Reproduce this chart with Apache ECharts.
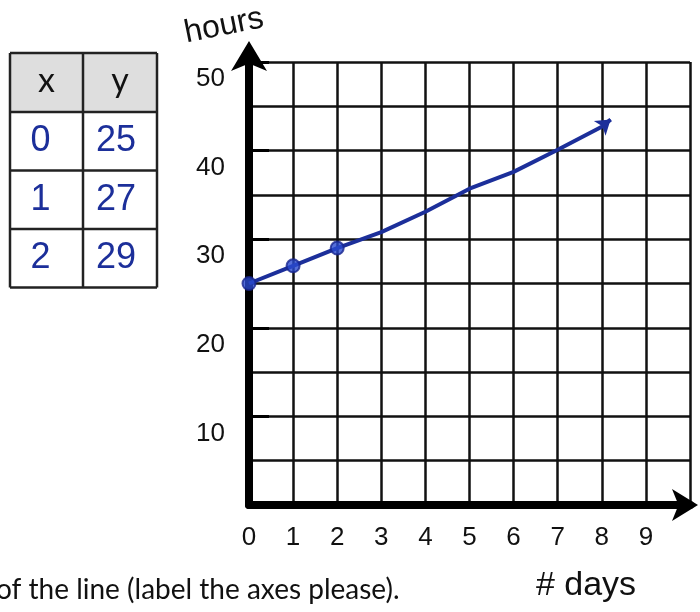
<!DOCTYPE html>
<html>
<head>
<meta charset="utf-8">
<title>hours vs # days</title>
<script src="https://cdn.jsdelivr.net/npm/echarts@6/dist/echarts.min.js"></script>
<style>
  html, body { margin: 0; padding: 0; background: #ffffff; }
  #chart { width: 700px; height: 612px; }
</style>
</head>
<body>
<div id="chart"></div>
<script>
// Table of values (x = days, y = hours)
const tableX = [0, 1, 2];
const tableY = [25, 27, 29];

// Hand-drawn line through the table points, continued to the right
const lineX = [0, 1, 2, 3, 4, 5, 6, 7, 8, 8.2];
const lineY = [25, 27, 29, 30.8, 33.1, 35.7, 37.6, 40.1, 42.7, 43.5];

// Axis tick labels
const xTickLabels = ['0', '1', '2', '3', '4', '5', '6', '7', '8', '9'];
const yTickLabels = ['10', '20', '30', '40', '50'];

const ink = '#111111';
const pen = '#1c2f9a';
const hand = '"Liberation Sans", "DejaVu Sans", sans-serif';
const print = 'Lato, "Open Sans", sans-serif';

const chart = echarts.init(document.getElementById('chart'), null, { renderer: 'canvas' });

// Table built from the arrays above
const tbl = { left: 10, mid: 83, right: 157, top: 53, head: 112, rowH: 58.5 };
const extras = [];
extras.push({
  type: 'rect', shape: { x: tbl.left, y: tbl.top, width: tbl.right - tbl.left, height: tbl.head - tbl.top },
  style: { fill: '#dedede' }, z: 1
});
const hLines = [tbl.top, tbl.head];
tableX.forEach((_, i) => hLines.push(tbl.head + tbl.rowH * (i + 1)));
const tableBottom = hLines[hLines.length - 1];
hLines.forEach(y => extras.push({
  type: 'line', shape: { x1: tbl.left, y1: y, x2: tbl.right, y2: y },
  style: { stroke: '#222', lineWidth: 2.5 }, z: 2
}));
[tbl.left, tbl.mid, tbl.right].forEach(x => extras.push({
  type: 'line', shape: { x1: x, y1: tbl.top, x2: x, y2: tableBottom },
  style: { stroke: '#222', lineWidth: 2.5 }, z: 2
}));
extras.push({
  type: 'text', x: (tbl.left + tbl.mid) / 2, y: (tbl.top + tbl.head) / 2 - 1, z: 3,
  style: { text: 'x', font: '34px ' + print, fill: '#111', align: 'center', verticalAlign: 'middle' }
});
extras.push({
  type: 'text', x: (tbl.mid + tbl.right) / 2, y: (tbl.top + tbl.head) / 2 - 1, z: 3,
  style: { text: 'y', font: '34px ' + print, fill: '#111', align: 'center', verticalAlign: 'middle' }
});
tableX.forEach((xv, i) => {
  const cy = tbl.head + tbl.rowH * (i + 0.5);
  extras.push({
    type: 'text', x: (tbl.left + tbl.mid) / 2 - 6, y: cy, z: 3,
    style: { text: String(xv), font: '36px ' + hand, fill: pen, align: 'center', verticalAlign: 'middle' }
  });
  extras.push({
    type: 'text', x: (tbl.mid + tbl.right) / 2 - 4, y: cy, z: 3,
    style: { text: String(tableY[i]), font: '36px ' + hand, fill: pen, align: 'center', verticalAlign: 'middle' }
  });
});

// Axis titles
extras.push({
  type: 'text', x: 224, y: 26, rotation: 0.2, z: 3,
  style: { text: 'hours', font: '32px ' + hand, fill: ink, align: 'center', verticalAlign: 'middle' }
});
extras.push({
  type: 'text', x: 586, y: 586, z: 3,
  style: { text: '# days', font: '34px ' + hand, fill: ink, align: 'center', verticalAlign: 'middle' }
});

// Printed instruction line at the bottom
extras.push({
  type: 'text', left: -4, top: 576, z: 3,
  style: { text: 'of the line (label the axes please).', font: '28px ' + print, fill: '#111' }
});

const option = {
  backgroundColor: '#ffffff',
  animation: false,
  grid: { left: 249, right: 10, top: 62, bottom: 107, containLabel: false },
  xAxis: {
    type: 'value',
    min: 0, max: 10, interval: 1,
    axisLine: {
      show: true, onZero: false,
      lineStyle: { color: '#000', width: 8 },
      symbol: ['none', 'arrow'], symbolSize: [24, 26], symbolOffset: [0, 8]
    },
    axisTick: { show: false },
    axisLabel: {
      color: ink, fontFamily: hand, fontSize: 26, margin: 20,
      formatter: v => (v < xTickLabels.length ? xTickLabels[v] : '')
    },
    splitLine: { show: true, lineStyle: { color: ink, width: 2.5 } }
  },
  yAxis: {
    type: 'value',
    min: 0, max: 50, interval: 10,
    axisLine: {
      show: true, onZero: false,
      lineStyle: { color: '#000', width: 8 },
      symbol: ['none', 'arrow'], symbolSize: [27, 30], symbolOffset: [0, 21]
    },
    axisTick: { show: true, inside: true, length: 20, lineStyle: { color: '#000', width: 3 } },
    minorTick: { show: false, splitNumber: 2 },
    minorSplitLine: { show: true, lineStyle: { color: ink, width: 2.5 } },
    axisLabel: {
      color: ink, fontFamily: hand, fontSize: 26, margin: 24,
      verticalAlign: 'top', lineHeight: 34,
      formatter: v => {
        const idx = yTickLabels.indexOf(String(v));
        return idx >= 0 ? yTickLabels[idx] : '';
      }
    },
    splitLine: { show: true, lineStyle: { color: ink, width: 2.5 } }
  },
  series: [
    {
      name: 'line',
      type: 'line',
      data: lineX.map((x, i) => [x, lineY[i]]),
      symbol: 'none',
      lineStyle: { color: pen, width: 4 },
      z: 5,
      markLine: {
        silent: true,
        symbol: ['none', 'arrow'],
        symbolSize: 14,
        label: { show: false },
        lineStyle: { color: pen, width: 3, type: 'solid' },
        data: [[
          { coord: [lineX[lineX.length - 2], lineY[lineY.length - 2]] },
          { coord: [lineX[lineX.length - 1], lineY[lineY.length - 1]] }
        ]]
      }
    },
    {
      name: 'table points',
      type: 'scatter',
      data: tableX.map((x, i) => [x, tableY[i]]),
      symbol: 'circle',
      symbolSize: 13,
      itemStyle: { color: '#2a4bd0', borderColor: '#18268f', borderWidth: 2 },
      z: 6
    }
  ],
  graphic: extras
};

chart.setOption(option);
</script>
</body>
</html>
